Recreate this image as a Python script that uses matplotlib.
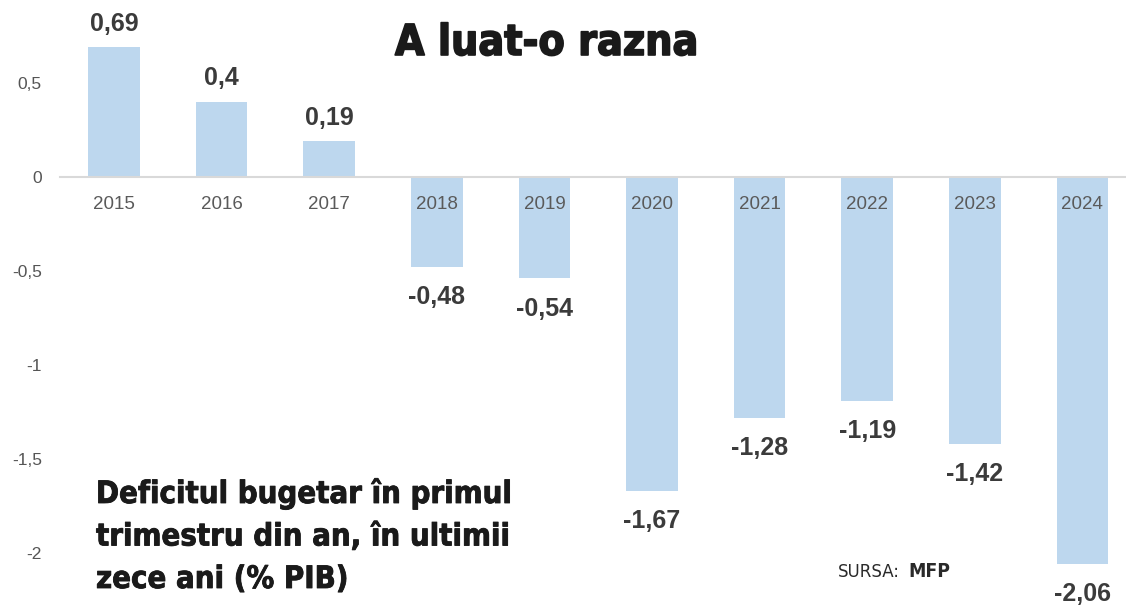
import os
import matplotlib
matplotlib.use("Agg")
from matplotlib import pyplot as plt
from matplotlib import font_manager as fm
from matplotlib import patheffects as pe

years = ["2015", "2016", "2017", "2018", "2019", "2020", "2021", "2022", "2023", "2024"]
deficit = [0.69, 0.4, 0.19, -0.48, -0.54, -1.67, -1.28, -1.19, -1.42, -2.06]
value_labels = ["0,69", "0,4", "0,19", "-0,48", "-0,54", "-1,67", "-1,28", "-1,19", "-1,42", "-2,06"]
yticks = [0.5, 0, -0.5, -1, -1.5, -2]
ytick_labels = ["0,5", "0", "-0,5", "-1", "-1,5", "-2"]
title = "A luat-o razna"
subtitle = ["Deficitul bugetar în primul",
            "trimestru din an, în ultimii",
            "zece ani (% PIB)"]


def find_font(patterns):
    # first installed file whose name starts with one of the patterns
    files = [f.fname for f in fm.fontManager.ttflist]
    for p in patterns:
        for fn in files:
            if os.path.basename(fn).startswith(p):
                return fm.FontProperties(fname=fn)
    return fm.FontProperties(family="DejaVu Sans")


cond_bold = find_font(["LiberationSansNarrow-Bold.", "NotoSans-CondensedBold.",
                       "DejaVuSansCondensed-Bold.", "LiberationSans-Bold."])
cond_reg = find_font(["LiberationSansNarrow-Regular.", "NotoSans-Condensed.",
                      "DejaVuSansCondensed.", "LiberationSans-Regular."])
normal = ["Liberation Sans", "DejaVu Sans"]

W, H = 1126, 606
fig = plt.figure(figsize=(W / 100, H / 100), dpi=100)
ax = fig.add_axes([60 / W, 0, 1 - 60 / W, 1])

x = list(range(len(years)))
ax.bar(x, deficit, width=0.48, color="#bdd7ee", zorder=1)

ax.set_xlim(-0.502, 9.405)
ax.set_ylim(-2.282, 0.941)

# x axis sits on zero
for s in ["top", "right", "left"]:
    ax.spines[s].set_visible(False)
ax.spines["bottom"].set_position(("data", 0))
ax.spines["bottom"].set_color("#d9d9d9")
ax.spines["bottom"].set_linewidth(1.5)

ax.set_xticks(x)
ax.set_xticklabels(years, family=normal, fontsize=13.5, color="#5a5a5a")
ax.tick_params(axis="x", length=0, pad=14)
ax.set_yticks(yticks)
ax.set_yticklabels(ytick_labels, family=normal, fontsize=12.5, color="#555555")
ax.tick_params(axis="y", length=0, pad=13)
ax.xaxis.set_zorder(3)

# value labels
for xi, v, lab in zip(x, deficit, value_labels):
    if v >= 0:
        ax.annotate(lab, (xi, v), xytext=(0, 12), textcoords="offset points",
                    ha="center", va="baseline", fontsize=18, fontweight="bold",
                    family=normal, color="#3b3b3b", zorder=3)
    else:
        ax.annotate(lab, (xi, v), xytext=(0, -13), textcoords="offset points",
                    ha="center", va="top", fontsize=18, fontweight="bold",
                    family=normal, color="#3b3b3b", zorder=3)

renderer = fig.canvas.get_renderer()


def fit(t, width):
    # scale font so the text spans the wanted pixel width
    w = t.get_window_extent(renderer).width
    t.set_fontsize(t.get_fontsize() * width / w)
    return t.get_fontsize()


# title, a thin stroke makes it a bit heavier
t = fig.text(547 / W, 1 - 55 / H, title, ha="center", va="baseline",
             fontproperties=cond_bold, color="#1a1a1a")
t.set_fontsize(40)
fit(t, 303)
t.set_path_effects([pe.withStroke(linewidth=1.2, foreground="#1a1a1a")])

# subtitle, one line at a time
size = None
for line, base in zip(subtitle, [503, 545.5, 588]):
    t = fig.text(96 / W, 1 - base / H, line, ha="left", va="baseline",
                 fontproperties=cond_bold, color="#1a1a1a")
    t.set_fontsize(30)
    if size is None:
        size = fit(t, 415)
    else:
        t.set_fontsize(size)
    t.set_path_effects([pe.withStroke(linewidth=0.6, foreground="#1a1a1a")])

# source
t = fig.text(838 / W, 1 - 577 / H, "SURSA:", ha="left", va="baseline",
             fontproperties=cond_reg, color="#2a2a2a")
t.set_fontsize(17)
fit(t, 62)
t = fig.text(908 / W, 1 - 577 / H, "MFP", ha="left", va="baseline",
             fontproperties=cond_bold, color="#2a2a2a")
t.set_fontsize(17)
fit(t, 42)

fig.savefig("out.png", dpi=100, facecolor="white")
